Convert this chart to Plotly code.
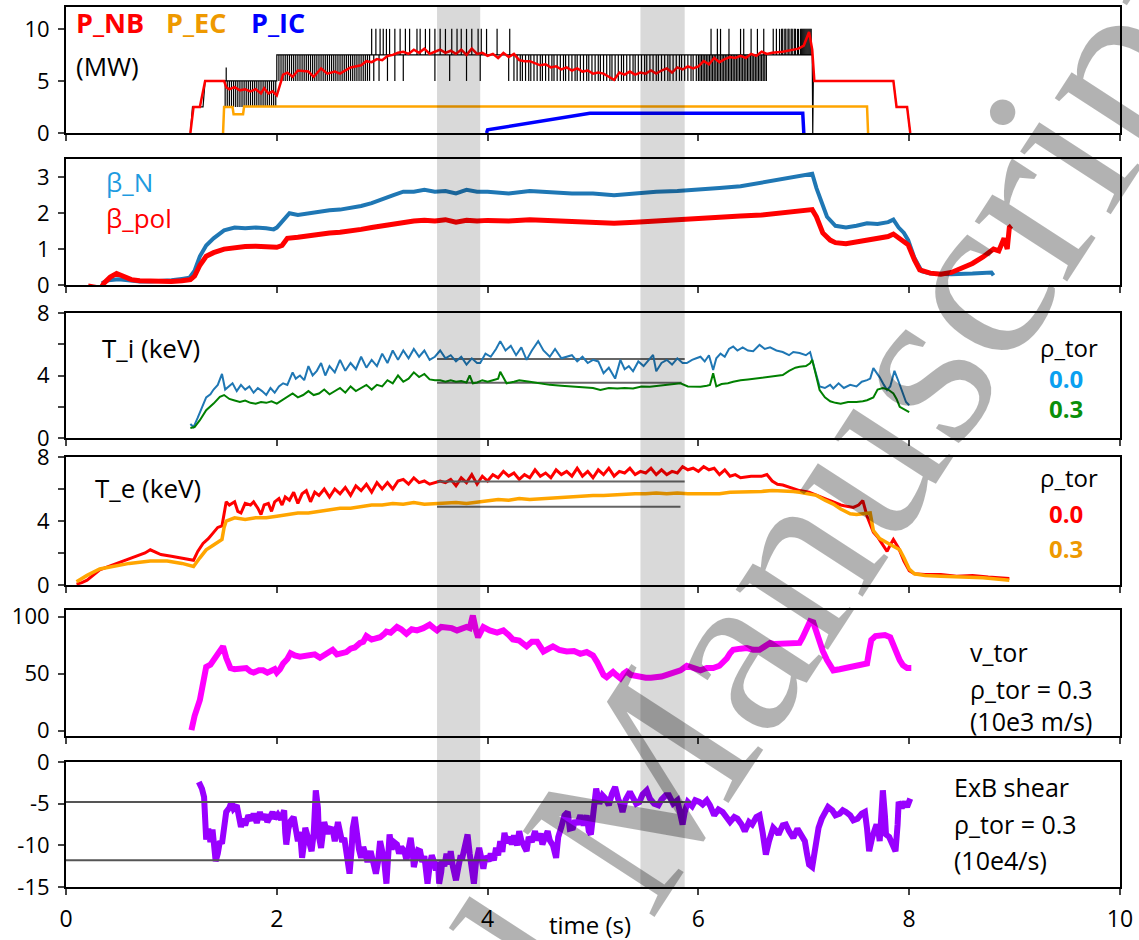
import plotly.graph_objects as go

# ---------------- data ----------------
# Panel 1: heating powers (MW)
NB_SMOOTH = [(1.18, 0), (1.21, 2.5), (1.27, 2.5), (1.32, 5), (1.5, 5), (1.52, 4.4), (1.55, 4.2), (1.6, 4.4),
             (1.65, 4.1), (1.7, 4.2), (1.75, 4.0), (1.8, 4.2), (1.85, 3.8), (1.88, 4.3), (1.92, 3.8), (1.96, 4.0),
             (2.0, 3.6), (2.03, 4.5), (2.06, 5.6), (2.1, 5.8), (2.15, 5.4), (2.2, 6.0), (2.3, 5.9), (2.35, 5.4),
             (2.42, 6.2), (2.48, 5.7), (2.55, 5.9), (2.6, 5.7), (2.7, 6.3), (2.8, 6.5), (2.85, 6.9), (2.9, 6.8),
             (2.95, 7.1), (3.0, 7.0), (3.05, 7.4), (3.1, 7.5), (3.15, 7.7), (3.2, 7.8), (3.25, 7.6), (3.3, 8.0),
             (3.35, 7.7), (3.4, 8.1), (3.45, 7.6), (3.5, 7.8), (3.55, 8.0), (3.6, 7.7), (3.65, 7.9), (3.7, 7.6),
             (3.75, 8.0), (3.8, 7.5), (3.85, 8.1), (3.9, 7.6), (3.95, 7.7), (4.0, 7.4), (4.05, 7.6), (4.1, 7.2),
             (4.15, 7.7), (4.2, 7.3), (4.25, 7.6), (4.3, 7.0), (4.35, 6.9), (4.4, 6.9), (4.45, 6.7), (4.5, 6.5),
             (4.55, 6.6), (4.6, 6.3), (4.65, 6.4), (4.7, 6.1), (4.75, 6.3), (4.8, 6.0), (4.85, 6.2), (4.9, 5.9),
             (4.95, 6.0), (5.0, 5.7), (5.05, 5.8), (5.1, 5.7), (5.15, 5.4), (5.2, 5.1), (5.25, 5.8), (5.3, 5.6),
             (5.35, 5.9), (5.4, 5.6), (5.45, 5.8), (5.5, 5.7), (5.55, 6.0), (5.6, 5.7), (5.65, 6.0), (5.7, 6.2),
             (5.75, 5.8), (5.8, 6.3), (5.85, 6.1), (5.9, 6.4), (5.95, 6.2), (6.0, 6.4), (6.05, 6.9), (6.1, 6.6),
             (6.15, 7.2), (6.2, 6.8), (6.25, 7.1), (6.3, 7.3), (6.35, 7.2), (6.4, 7.4), (6.45, 7.2), (6.5, 7.6),
             (6.55, 7.4), (6.6, 7.8), (6.65, 7.6), (6.7, 7.7), (6.8, 7.8), (6.9, 8.0), (6.95, 8.1), (7.0, 8.4),
             (7.05, 9.7), (7.08, 8.0), (7.1, 5.0), (7.85, 5.0), (7.88, 2.5), (7.98, 2.5), (8.01, 0)]

NB_RAW_BASE = [(1.18, 0), (1.2, 2.5), (1.3, 2.5), (1.32, 5), (1.5, 5), (2.0, 5), (2.0, 7.5), (7.08, 7.5),
               (7.085, 0), (7.09, 5), (7.85, 5), (7.88, 2.5), (7.98, 2.5), (8.01, 0)]
# modulation spikes of the raw NB power (times in s)
NB_DOWN_A = [1.51, 1.53, 1.55, 1.57, 1.59, 1.61, 1.63, 1.65, 1.67, 1.69, 1.71, 1.73, 1.75, 1.77, 1.79, 1.81,
             1.83, 1.85, 1.87, 1.89, 1.91, 1.93, 1.95, 1.97, 1.99]
NB_UP_A = [1.52]
NB_DOWN_B = [2.02, 2.04, 2.06, 2.08, 2.10, 2.12, 2.14, 2.16, 2.18, 2.20, 2.22, 2.24, 2.26, 2.28, 2.30, 2.32,
             2.34, 2.36, 2.38, 2.40, 2.42, 2.44, 2.46, 2.48, 2.50, 2.52, 2.54, 2.56, 2.58, 2.60, 2.62, 2.64,
             2.66, 2.68, 2.70, 2.72, 2.74, 2.76, 2.78, 2.80, 2.82, 2.84, 2.86, 2.88, 2.92, 2.97, 3.05, 3.12,
             3.20, 3.50, 3.64, 3.80, 3.93, 4.20, 4.25,
             4.28, 4.31, 4.33, 4.36, 4.39, 4.41, 4.44, 4.47, 4.50, 4.52, 4.55, 4.58, 4.61, 4.63, 4.66, 4.69,
             4.72, 4.74, 4.77, 4.80, 4.83, 4.85, 4.88, 4.91, 4.94, 4.96, 4.99, 5.02, 5.05, 5.07, 5.10, 5.13,
             5.16, 5.18, 5.21, 5.24, 5.27, 5.29, 5.32, 5.35, 5.38, 5.40, 5.43, 5.46, 5.49, 5.51, 5.54, 5.57,
             5.60, 5.62, 5.65, 5.68, 5.71, 5.73, 5.76, 5.79, 5.82, 5.84, 5.87, 5.90, 5.93, 5.95, 5.98,
             6.00, 6.015, 6.03, 6.045, 6.06, 6.075, 6.09, 6.105, 6.12, 6.135, 6.15, 6.165, 6.18, 6.195, 6.21,
             6.225, 6.24, 6.255, 6.27, 6.285, 6.30, 6.315, 6.33, 6.345, 6.36, 6.375, 6.39, 6.405, 6.42, 6.435,
             6.45, 6.465, 6.48, 6.495, 6.51, 6.525, 6.54, 6.555, 6.57, 6.585, 6.60, 6.615, 6.63, 6.645]
NB_UP_B = [2.90, 2.94, 2.98, 3.01, 3.04, 3.07, 3.12, 3.17, 3.22, 3.26, 3.33, 3.36, 3.41, 3.45, 3.50, 3.55,
           3.60, 3.66, 3.71, 3.75, 3.80, 3.85, 3.91, 3.94, 3.99, 4.09, 4.21,
           6.12, 6.18, 6.21, 6.29, 6.40, 6.43, 6.50, 6.56, 6.62, 6.71, 6.74, 6.77, 6.79, 6.80, 6.82, 6.83,
           6.85, 6.86, 6.88, 6.89, 6.91, 6.92, 6.94, 6.95, 6.97, 6.98, 6.99, 7.00, 7.01, 7.02, 7.03, 7.04,
           7.05, 7.06, 7.07]

P_EC = [(1.49, 0), (1.5, 2.5), (1.58, 2.5), (1.59, 1.8), (1.68, 1.8), (1.69, 2.55), (7.6, 2.55), (7.61, 0)]
P_IC = [(3.99, 0), (4.0, 0.3), (4.97, 1.9), (6.99, 1.9), (7.0, 0)]

# Panel 2: beta
BETA_N = [(0.34, 0.05), (0.4, 0.13), (0.5, 0.16), (0.6, 0.12), (0.7, 0.1), (0.8, 0.1), (0.9, 0.11), (1.0, 0.13),
          (1.1, 0.17), (1.17, 0.2), (1.22, 0.4), (1.27, 0.8), (1.33, 1.1), (1.4, 1.3), (1.5, 1.52), (1.6, 1.6),
          (1.7, 1.58), (1.8, 1.6), (1.9, 1.58), (1.97, 1.55), (2.0, 1.6), (2.07, 1.85), (2.12, 2.0), (2.2, 1.95),
          (2.3, 2.0), (2.4, 2.05), (2.5, 2.08), (2.6, 2.1), (2.7, 2.15), (2.8, 2.2), (2.9, 2.28), (3.0, 2.4),
          (3.1, 2.5), (3.2, 2.6), (3.3, 2.6), (3.4, 2.65), (3.5, 2.6), (3.6, 2.62), (3.7, 2.55), (3.8, 2.65),
          (3.9, 2.6), (4.0, 2.6), (4.2, 2.55), (4.4, 2.62), (4.6, 2.58), (4.8, 2.55), (5.0, 2.55), (5.2, 2.5),
          (5.4, 2.55), (5.6, 2.6), (5.8, 2.62), (6.0, 2.65), (6.2, 2.7), (6.4, 2.75), (6.6, 2.85), (6.8, 2.95),
          (7.0, 3.05), (7.08, 3.1), (7.12, 2.7), (7.16, 2.4), (7.22, 1.9), (7.3, 1.65), (7.4, 1.6), (7.5, 1.65),
          (7.6, 1.72), (7.7, 1.7), (7.8, 1.75), (7.85, 1.82), (7.9, 1.6), (7.95, 1.45), (7.99, 1.25),
          (8.05, 0.75), (8.12, 0.38), (8.2, 0.32), (8.4, 0.3), (8.6, 0.32), (8.78, 0.35), (8.8, 0.27)]
BETA_POL = [(0.21, -0.03), (0.28, -0.08), (0.33, -0.09), (0.36, 0.05), (0.42, 0.22), (0.48, 0.32), (0.55, 0.24),
            (0.62, 0.15), (0.7, 0.12), (0.8, 0.11), (0.9, 0.11), (1.0, 0.1), (1.1, 0.12), (1.18, 0.15),
            (1.22, 0.25), (1.27, 0.55), (1.33, 0.8), (1.4, 0.9), (1.5, 1.0), (1.6, 1.05), (1.7, 1.07),
            (1.8, 1.08), (1.9, 1.07), (2.0, 1.05), (2.05, 1.1), (2.1, 1.3), (2.2, 1.33), (2.3, 1.38), (2.4, 1.4),
            (2.5, 1.45), (2.6, 1.47), (2.7, 1.5), (2.8, 1.55), (2.9, 1.6), (3.0, 1.65), (3.1, 1.7), (3.2, 1.75),
            (3.3, 1.78), (3.4, 1.8), (3.5, 1.78), (3.6, 1.82), (3.7, 1.75), (3.8, 1.8), (3.9, 1.78), (4.0, 1.8),
            (4.2, 1.78), (4.4, 1.82), (4.6, 1.8), (4.8, 1.75), (5.0, 1.75), (5.2, 1.72), (5.4, 1.75), (5.6, 1.8),
            (5.8, 1.82), (6.0, 1.85), (6.2, 1.9), (6.4, 1.92), (6.6, 1.95), (6.8, 2.0), (7.0, 2.05), (7.08, 2.1),
            (7.12, 1.9), (7.18, 1.45), (7.25, 1.25), (7.3, 1.18), (7.4, 1.15), (7.5, 1.2), (7.6, 1.22),
            (7.7, 1.3), (7.8, 1.35), (7.85, 1.42), (7.9, 1.3), (7.95, 1.2), (7.99, 1.12), (8.05, 0.7),
            (8.1, 0.42), (8.2, 0.33), (8.3, 0.3), (8.4, 0.35), (8.5, 0.48), (8.6, 0.6), (8.7, 0.78), (8.8, 1.0),
            (8.85, 0.95), (8.9, 1.3), (8.93, 1.0), (8.95, 1.6), (8.97, 1.65)]

# Panel 3: T_i (keV)
TI_00 = [(1.18, 0.9), (1.21, 0.7), (1.25, 1.3), (1.29, 1.9), (1.33, 2.6), (1.37, 2.8), (1.4, 3.1), (1.44, 3.4),
         (1.48, 4.1), (1.51, 3.1), (1.55, 3.3), (1.58, 3.5), (1.62, 3.0), (1.66, 3.4), (1.7, 3.1), (1.74, 3.3),
         (1.78, 2.9), (1.82, 3.2), (1.86, 3.0), (1.9, 2.75), (1.94, 3.2), (1.98, 2.9), (2.02, 3.3), (2.06, 3.5),
         (2.1, 3.4), (2.15, 4.2), (2.18, 3.8), (2.22, 4.0), (2.26, 3.7), (2.3, 4.6), (2.34, 4.0), (2.38, 4.3),
         (2.42, 4.8), (2.46, 4.0), (2.5, 4.6), (2.55, 4.2), (2.6, 5.0), (2.65, 4.3), (2.7, 4.8), (2.75, 4.4),
         (2.8, 5.2), (2.85, 4.5), (2.9, 5.0), (2.95, 4.6), (3.0, 5.4), (3.05, 4.8), (3.1, 5.6), (3.15, 5.0),
         (3.2, 5.6), (3.25, 5.1), (3.3, 5.7), (3.35, 5.2), (3.4, 5.6), (3.45, 5.0), (3.5, 5.2), (3.55, 5.6),
         (3.6, 5.1), (3.65, 5.3), (3.7, 4.9), (3.75, 5.2), (3.8, 4.7), (3.85, 5.1), (3.9, 4.8), (3.93, 4.8),
         (3.98, 5.4), (4.03, 5.2), (4.08, 5.7), (4.12, 6.2), (4.17, 5.6), (4.22, 5.9), (4.27, 5.3), (4.32, 5.8),
         (4.37, 5.0), (4.42, 5.6), (4.48, 6.2), (4.53, 5.6), (4.59, 5.2), (4.64, 5.7), (4.7, 5.1), (4.75, 5.2),
         (4.8, 5.3), (4.85, 4.9), (4.9, 5.2), (4.95, 4.8), (5.0, 5.0), (5.05, 4.9), (5.1, 4.15), (5.15, 4.5),
         (5.21, 3.8), (5.26, 5.0), (5.3, 4.4), (5.34, 4.6), (5.38, 4.27), (5.43, 4.9), (5.48, 4.6), (5.53, 5.0),
         (5.57, 5.32), (5.6, 4.27), (5.65, 4.8), (5.7, 5.0), (5.75, 4.7), (5.8, 5.1), (5.85, 4.8), (5.89, 4.8),
         (5.94, 5.0), (5.98, 5.1), (6.02, 5.2), (6.06, 4.9), (6.1, 5.3), (6.14, 4.35), (6.17, 5.1), (6.21, 5.4),
         (6.25, 5.2), (6.29, 5.7), (6.33, 5.85), (6.37, 5.6), (6.42, 5.8), (6.47, 5.6), (6.52, 5.55),
         (6.58, 5.96), (6.63, 5.7), (6.68, 5.8), (6.74, 5.6), (6.8, 5.5), (6.86, 5.3), (6.9, 5.5), (6.96, 5.44),
         (7.02, 5.3), (7.06, 5.5), (7.1, 4.5), (7.15, 3.3), (7.2, 3.2), (7.25, 3.4), (7.28, 3.17), (7.33, 3.5),
         (7.38, 3.2), (7.44, 3.4), (7.5, 3.3), (7.55, 3.6), (7.6, 3.7), (7.63, 3.8), (7.66, 4.47), (7.69, 4.2),
         (7.72, 3.88), (7.76, 3.4), (7.79, 3.07), (7.82, 3.3), (7.86, 4.3), (7.9, 3.6), (7.94, 2.8),
         (7.97, 2.3), (8.0, 2.1)]
TI_03 = [(1.18, 0.64), (1.22, 0.7), (1.27, 1.14), (1.33, 1.78), (1.4, 2.2), (1.46, 2.64), (1.5, 2.75),
         (1.55, 2.5), (1.6, 2.4), (1.65, 2.3), (1.7, 2.4), (1.75, 2.25), (1.8, 2.2), (1.85, 2.3), (1.9, 2.25),
         (1.95, 2.35), (2.0, 2.2), (2.05, 2.4), (2.1, 2.6), (2.15, 2.85), (2.2, 2.6), (2.25, 2.75), (2.3, 3.0),
         (2.35, 2.75), (2.4, 2.85), (2.45, 3.1), (2.5, 2.8), (2.55, 3.0), (2.6, 3.2), (2.65, 2.9), (2.7, 3.3),
         (2.75, 3.0), (2.8, 3.2), (2.85, 3.4), (2.9, 3.1), (2.95, 3.4), (3.0, 3.3), (3.05, 3.7), (3.1, 3.5),
         (3.15, 4.0), (3.2, 3.6), (3.25, 3.8), (3.3, 4.2), (3.35, 3.9), (3.4, 4.1), (3.45, 3.75), (3.5, 3.7),
         (3.55, 3.7), (3.6, 3.6), (3.65, 3.7), (3.7, 3.6), (3.75, 3.65), (3.8, 3.55), (3.83, 4.0), (3.86, 3.5),
         (3.9, 3.55), (3.95, 3.7), (4.0, 3.6), (4.05, 3.7), (4.1, 3.8), (4.12, 4.24), (4.18, 3.5), (4.25, 3.6),
         (4.3, 3.7), (4.4, 3.6), (4.5, 3.5), (4.59, 3.4), (4.7, 3.35), (4.8, 3.3), (4.9, 3.28), (5.0, 3.2),
         (5.07, 3.07), (5.15, 3.2), (5.23, 3.17), (5.3, 3.2), (5.38, 3.17), (5.46, 3.3), (5.54, 3.28),
         (5.62, 3.35), (5.7, 3.4), (5.77, 3.45), (5.83, 3.5), (5.9, 3.3), (5.96, 3.3), (6.02, 3.28), (6.08, 3.35),
         (6.11, 3.4), (6.14, 4.14), (6.17, 3.3), (6.22, 3.45), (6.28, 3.5), (6.33, 3.6), (6.4, 3.7), (6.47, 3.75),
         (6.53, 3.8), (6.58, 3.8), (6.65, 3.9), (6.72, 3.95), (6.8, 4.03), (6.86, 4.3), (6.92, 4.5),
         (6.96, 4.56), (7.02, 4.6), (7.06, 4.78), (7.08, 5.0), (7.12, 3.9), (7.15, 3.07), (7.2, 2.6),
         (7.25, 2.35), (7.3, 2.25), (7.35, 2.2), (7.42, 2.3), (7.5, 2.3), (7.56, 2.35), (7.6, 2.42), (7.66, 2.6),
         (7.7, 3.1), (7.75, 3.2), (7.8, 3.1), (7.85, 2.85), (7.88, 2.5), (7.91, 2.0), (7.96, 1.8), (8.0, 1.65)]
TI_REF_HI = [(3.52, 5.06), (5.87, 5.06)]
TI_REF_LO = [(3.52, 3.54), (5.84, 3.54)]

# Panel 4: T_e (keV)
TE_00 = [(0.1, 0.05), (0.15, 0.15), (0.2, 0.3), (0.25, 0.55), (0.32, 0.95), (0.4, 1.15), (0.5, 1.4), (0.6, 1.6),
         (0.7, 1.9), (0.75, 2.0), (0.8, 2.2), (0.85, 2.05), (0.9, 1.9), (1.0, 1.8), (1.1, 1.7), (1.17, 1.6),
         (1.21, 1.55), (1.25, 2.1), (1.3, 2.6), (1.35, 2.9), (1.4, 3.3), (1.44, 3.6), (1.48, 3.7), (1.5, 4.6),
         (1.52, 5.2), (1.55, 5.0), (1.6, 5.2), (1.63, 4.6), (1.66, 4.5), (1.7, 5.1), (1.75, 5.0), (1.78, 5.2),
         (1.82, 4.8), (1.85, 4.4), (1.88, 5.0), (1.92, 5.1), (1.95, 4.6), (1.98, 5.2), (2.02, 5.4), (2.05, 5.0),
         (2.08, 5.5), (2.12, 5.3), (2.16, 5.8), (2.2, 5.1), (2.24, 5.7), (2.28, 5.9), (2.32, 5.2), (2.36, 5.8),
         (2.4, 5.6), (2.45, 6.0), (2.5, 5.5), (2.55, 6.0), (2.6, 5.7), (2.65, 6.1), (2.7, 5.6), (2.75, 6.2),
         (2.8, 5.9), (2.85, 6.3), (2.9, 5.8), (2.95, 6.4), (3.0, 6.0), (3.05, 6.4), (3.1, 6.0), (3.15, 6.5),
         (3.2, 6.6), (3.25, 6.3), (3.3, 6.7), (3.35, 6.4), (3.4, 6.5), (3.45, 6.3), (3.5, 6.4), (3.55, 6.5),
         (3.6, 6.4), (3.65, 6.6), (3.7, 6.2), (3.75, 6.7), (3.8, 6.4), (3.85, 6.9), (3.9, 6.3), (3.95, 6.8),
         (4.0, 6.5), (4.05, 6.9), (4.1, 6.7), (4.15, 7.1), (4.2, 6.8), (4.25, 7.0), (4.3, 6.6), (4.35, 6.9),
         (4.4, 6.7), (4.45, 7.2), (4.5, 6.8), (4.55, 7.0), (4.6, 6.7), (4.65, 7.2), (4.7, 6.9), (4.75, 7.1),
         (4.8, 6.8), (4.85, 7.3), (4.9, 6.8), (4.95, 7.1), (5.0, 6.7), (5.05, 7.2), (5.1, 6.9), (5.15, 7.3),
         (5.2, 6.8), (5.25, 7.1), (5.3, 7.0), (5.35, 7.3), (5.4, 6.9), (5.45, 7.1), (5.5, 7.0), (5.55, 7.3),
         (5.6, 6.9), (5.65, 7.2), (5.7, 6.9), (5.75, 7.1), (5.8, 7.0), (5.85, 7.4), (5.9, 7.2), (5.95, 7.3),
         (6.0, 7.1), (6.05, 7.4), (6.1, 7.2), (6.15, 7.3), (6.2, 6.9), (6.25, 7.2), (6.3, 6.8), (6.35, 6.9),
         (6.4, 6.7), (6.5, 6.8), (6.6, 6.8), (6.65, 6.9), (6.7, 6.5), (6.75, 6.3), (6.8, 6.25), (6.87, 6.1),
         (6.92, 6.0), (6.96, 5.9), (7.05, 5.8), (7.12, 5.6), (7.2, 5.4), (7.28, 5.2), (7.35, 5.0), (7.42, 4.9),
         (7.47, 4.85), (7.52, 5.0), (7.56, 5.28), (7.6, 4.3), (7.63, 3.8), (7.66, 3.3), (7.7, 3.0), (7.75, 2.5),
         (7.79, 2.1), (7.82, 2.5), (7.85, 2.85), (7.9, 2.3), (7.95, 1.5), (8.0, 0.9), (8.05, 0.7), (8.15, 0.65),
         (8.3, 0.65), (8.45, 0.55), (8.6, 0.6), (8.75, 0.5), (8.9, 0.45), (8.95, 0.4)]
TE_03 = [(0.1, 0.2), (0.2, 0.6), (0.32, 1.0), (0.45, 1.15), (0.6, 1.35), (0.8, 1.5), (0.96, 1.5), (1.1, 1.35),
         (1.21, 1.16), (1.27, 1.7), (1.33, 2.2), (1.4, 2.5), (1.48, 2.85), (1.5, 3.6), (1.52, 4.0), (1.6, 4.2),
         (1.7, 4.1), (1.8, 4.2), (1.9, 4.2), (2.0, 4.3), (2.1, 4.4), (2.2, 4.5), (2.3, 4.5), (2.4, 4.6),
         (2.5, 4.7), (2.6, 4.8), (2.7, 4.8), (2.8, 4.9), (2.9, 5.0), (3.0, 5.0), (3.1, 5.1), (3.2, 5.05),
         (3.3, 5.15), (3.4, 5.05), (3.5, 5.1), (3.6, 5.1), (3.7, 5.15), (3.8, 5.1), (3.9, 5.2), (4.0, 5.25),
         (4.1, 5.35), (4.2, 5.3), (4.3, 5.4), (4.4, 5.35), (4.5, 5.4), (4.6, 5.4), (4.7, 5.45), (4.8, 5.5),
         (4.9, 5.55), (5.0, 5.6), (5.1, 5.6), (5.2, 5.65), (5.3, 5.7), (5.4, 5.7), (5.5, 5.7), (5.6, 5.75),
         (5.7, 5.7), (5.8, 5.75), (5.9, 5.7), (6.0, 5.7), (6.1, 5.75), (6.2, 5.7), (6.3, 5.8), (6.4, 5.8),
         (6.5, 5.8), (6.6, 5.85), (6.7, 5.9), (6.8, 5.9), (6.9, 5.85), (6.96, 5.8), (7.05, 5.7), (7.12, 5.6),
         (7.2, 5.3), (7.28, 5.06), (7.35, 4.75), (7.44, 4.45), (7.5, 4.4), (7.56, 4.45), (7.6, 4.45),
         (7.63, 4.5), (7.66, 3.4), (7.72, 2.9), (7.79, 2.64), (7.85, 2.4), (7.91, 2.2), (7.95, 1.7), (8.0, 1.0),
         (8.05, 0.7), (8.15, 0.6), (8.3, 0.55), (8.5, 0.5), (8.7, 0.45), (8.95, 0.3)]
TE_REF_HI = [(3.52, 6.47), (5.87, 6.47)]
TE_REF_LO = [(3.52, 4.89), (5.83, 4.89)]

# Panel 5: v_tor at rho_tor = 0.3 (10e3 m/s)
VTOR = [(1.19, 0.6), (1.22, 13), (1.27, 27), (1.31, 48), (1.33, 56), (1.37, 58), (1.4, 62), (1.43, 66),
        (1.46, 71), (1.49, 74), (1.52, 64), (1.56, 55), (1.6, 54), (1.65, 55), (1.71, 55), (1.75, 52),
        (1.78, 51), (1.83, 53), (1.87, 53), (1.91, 51), (1.94, 52), (1.98, 54), (2.0, 51), (2.03, 54),
        (2.06, 59), (2.1, 63), (2.13, 68), (2.17, 66), (2.22, 65), (2.27, 66), (2.31, 66), (2.36, 67),
        (2.41, 64), (2.46, 67), (2.5, 69), (2.53, 71), (2.57, 67), (2.62, 68), (2.66, 69), (2.7, 72),
        (2.74, 73), (2.79, 77), (2.82, 78), (2.85, 83), (2.9, 80), (2.94, 81), (2.98, 82), (3.02, 85),
        (3.04, 87), (3.08, 86), (3.14, 91), (3.18, 89), (3.23, 85), (3.28, 89), (3.33, 88), (3.39, 90),
        (3.45, 93), (3.49, 90), (3.52, 88), (3.56, 91), (3.61, 91), (3.66, 90), (3.71, 88), (3.76, 90),
        (3.8, 91), (3.83, 90), (3.86, 101), (3.89, 88), (3.91, 82), (3.96, 91), (4.02, 88), (4.09, 86),
        (4.15, 88), (4.2, 84), (4.24, 80), (4.3, 79), (4.37, 74), (4.42, 78), (4.47, 78), (4.53, 69.5),
        (4.58, 72), (4.62, 74), (4.68, 71), (4.75, 69.5), (4.82, 70), (4.88, 67.5), (4.94, 69), (5.0, 66),
        (5.04, 60), (5.07, 53), (5.1, 49), (5.13, 47), (5.16, 50), (5.19, 51.6), (5.22, 49), (5.26, 46),
        (5.29, 50), (5.32, 52), (5.36, 49), (5.4, 48), (5.45, 47), (5.5, 46.5), (5.55, 46.5), (5.6, 46.5),
        (5.65, 47.5), (5.7, 49), (5.73, 49.7), (5.78, 51), (5.83, 53), (5.89, 57), (5.95, 55), (6.02, 53),
        (6.08, 55), (6.14, 55), (6.2, 57), (6.24, 60), (6.27, 63.5), (6.3, 68), (6.33, 71), (6.4, 72),
        (6.46, 72.5), (6.52, 71), (6.58, 71), (6.63, 74), (6.68, 77), (6.72, 76), (6.77, 76), (6.85, 77),
        (6.92, 77), (6.96, 77), (6.99, 82), (7.03, 90), (7.06, 96), (7.09, 95), (7.12, 86), (7.15, 80),
        (7.18, 70), (7.22, 62), (7.25, 56), (7.28, 53), (7.34, 54), (7.4, 55), (7.44, 56), (7.5, 57),
        (7.55, 58), (7.6, 59), (7.62, 70), (7.64, 79.5), (7.68, 83), (7.72, 84), (7.77, 84), (7.82, 82),
        (7.85, 75), (7.88, 68), (7.91, 62), (7.94, 57.6), (7.98, 55), (8.02, 55)]

# Panel 6: ExB shear at rho_tor = 0.3 (10e4/s)
EXB = [(1.26, -2.4), (1.29, -3.2), (1.31, -4.2), (1.33, -9.3), (1.35, -8.0), (1.37, -9.6), (1.39, -8.1),
       (1.41, -10.5), (1.42, -11.9), (1.44, -11.0), (1.46, -9.5), (1.48, -9.8), (1.5, -7.0), (1.52, -6.0),
       (1.55, -5.5), (1.57, -4.8), (1.59, -5.6), (1.62, -5.2), (1.64, -6.5), (1.66, -7.8), (1.68, -6.8),
       (1.70, -7.6), (1.73, -6.4), (1.76, -7.0), (1.78, -6.2), (1.81, -7.3), (1.84, -6.0), (1.86, -6.9),
       (1.89, -6.3), (1.91, -7.2), (1.94, -6.5), (1.96, -6.0), (1.98, -6.8), (2.01, -6.3), (2.04, -6.9),
       (2.07, -5.8), (2.08, -8.5), (2.09, -9.9), (2.11, -8.0), (2.13, -7.1), (2.16, -6.6), (2.18, -8.2),
       (2.2, -9.5), (2.22, -8.4), (2.24, -11.5), (2.26, -9.6), (2.27, -7.9), (2.29, -8.8), (2.31, -9.6),
       (2.33, -10.7), (2.35, -8.6), (2.37, -3.4), (2.39, -5.5), (2.40, -9.0), (2.42, -10.3), (2.44, -8.0),
       (2.45, -7.2), (2.48, -8.6), (2.50, -8.0), (2.53, -8.1), (2.55, -9.5), (2.58, -7.2), (2.6, -8.8),
       (2.62, -9.6), (2.64, -9.1), (2.66, -11.0), (2.68, -12.0), (2.69, -13.4), (2.71, -10.5), (2.72, -8.0),
       (2.74, -6.6), (2.76, -9.5), (2.78, -10.5), (2.8, -11.5), (2.82, -10.2), (2.84, -11.0), (2.86, -12.0),
       (2.89, -10.7), (2.91, -11.6), (2.94, -13.4), (2.96, -12.0), (2.98, -9.5), (3.0, -10.7), (3.02, -12.0),
       (3.04, -14.6), (3.05, -11.5), (3.07, -8.7), (3.09, -10.5), (3.11, -9.6), (3.14, -9.9), (3.16, -11.0),
       (3.18, -10.2), (3.21, -10.7), (3.23, -11.8), (3.25, -10.0), (3.27, -9.1), (3.29, -11.0), (3.3, -12.6),
       (3.32, -11.5), (3.34, -10.6), (3.36, -10.7), (3.38, -12.0), (3.4, -11.3), (3.42, -13.0), (3.43, -14.6),
       (3.45, -12.5), (3.47, -11.2), (3.49, -11.9), (3.51, -13.0), (3.53, -12.0), (3.54, -14.6), (3.56, -13.2),
       (3.57, -11.9), (3.59, -12.5), (3.61, -11.0), (3.63, -12.3), (3.65, -10.7), (3.67, -12.5), (3.69, -13.5),
       (3.7, -14.2), (3.72, -12.8), (3.74, -11.5), (3.76, -11.5), (3.78, -10.3), (3.79, -9.5), (3.81, -8.7),
       (3.83, -11.0), (3.85, -12.5), (3.87, -14.6), (3.89, -12.0), (3.92, -10.3), (3.94, -11.5), (3.96, -12.8),
       (3.98, -11.3), (4.01, -11.9), (4.03, -11.0), (4.06, -11.8), (4.08, -10.3), (4.1, -11.2), (4.12, -9.5),
       (4.14, -10.8), (4.16, -8.5), (4.18, -9.7), (4.21, -9.0), (4.23, -9.9), (4.25, -8.8), (4.28, -10.0),
       (4.3, -8.3), (4.32, -9.4), (4.35, -10.2), (4.37, -10.7), (4.39, -9.0), (4.42, -9.6), (4.45, -8.3),
       (4.47, -9.4), (4.5, -8.6), (4.52, -9.9), (4.55, -8.9), (4.57, -8.3), (4.59, -9.4), (4.62, -10.0),
       (4.65, -11.5), (4.67, -9.0), (4.7, -7.8), (4.73, -6.4), (4.76, -6.0), (4.78, -8.0), (4.81, -7.9),
       (4.83, -7.0), (4.85, -7.5), (4.88, -6.4), (4.91, -7.6), (4.94, -6.4), (4.96, -8.3), (4.98, -8.7),
       (5.0, -6.5), (5.02, -4.0), (5.03, -3.2), (5.06, -5.0), (5.09, -4.0), (5.12, -4.4), (5.15, -5.2),
       (5.18, -3.8), (5.21, -3.0), (5.24, -4.5), (5.26, -5.0), (5.28, -6.0), (5.31, -4.5), (5.35, -3.6),
       (5.38, -4.2), (5.41, -5.0), (5.44, -4.8), (5.47, -3.9), (5.51, -3.4), (5.54, -4.4), (5.58, -5.0),
       (5.62, -5.2), (5.65, -4.5), (5.69, -4.0), (5.72, -4.0), (5.76, -5.0), (5.8, -4.6), (5.83, -6.0),
       (5.85, -7.5), (5.87, -6.0), (5.9, -4.8), (5.94, -5.3), (5.97, -4.6), (6.01, -4.8), (6.04, -5.1),
       (6.08, -4.6), (6.11, -5.2), (6.15, -6.4), (6.19, -5.7), (6.23, -6.0), (6.27, -6.6), (6.3, -7.2),
       (6.34, -6.6), (6.37, -6.8), (6.41, -7.5), (6.44, -8.3), (6.48, -7.2), (6.51, -7.5), (6.55, -6.6),
       (6.58, -6.4), (6.61, -8.5), (6.64, -11.1), (6.67, -9.5), (6.71, -7.9), (6.74, -8.3), (6.76, -8.7),
       (6.8, -7.6), (6.83, -7.5), (6.86, -8.3), (6.9, -9.1), (6.94, -8.0), (6.98, -8.7), (7.01, -9.5),
       (7.03, -11.0), (7.05, -12.3), (7.08, -12.6), (7.11, -10.0), (7.14, -7.9), (7.17, -6.8), (7.2, -6.0),
       (7.23, -5.4), (7.27, -5.8), (7.3, -6.4), (7.34, -6.2), (7.37, -5.8), (7.4, -6.0), (7.44, -6.4),
       (7.47, -7.0), (7.51, -6.8), (7.55, -6.2), (7.58, -6.0), (7.6, -8.0), (7.62, -10.7), (7.65, -9.0),
       (7.69, -7.5), (7.71, -8.5), (7.72, -9.5), (7.74, -5.5), (7.75, -3.4), (7.77, -6.5), (7.78, -8.7),
       (7.81, -9.0), (7.83, -9.5), (7.87, -10.7), (7.89, -7.5), (7.9, -4.8), (7.93, -5.5), (7.96, -4.8),
       (7.98, -5.4), (8.01, -4.4)]
EXB_REF_HI = [(0.0, -4.8), (5.93, -4.8)]
EXB_REF_LO = [(0.0, -11.8), (4.0, -11.8)]

# shaded analysis windows (s)
WINDOWS = [(3.52, 3.93), (5.45, 5.87)]

# axis settings
X_TICKS = [0, 2, 4, 6, 8, 10]
Y_RANGES = [[0, 12.1], [0, 3.51], [0, 8], [0, 8], [-4.6, 105.9], [-15, 0]]
Y_TICKS = [[0, 5, 10], [0, 1, 2, 3], [0, 2, 4, 6, 8], [0, 2, 4, 6, 8], [0, 50, 100], [0, -5, -10, -15]]
Y_TICKTEXT = [["0", "5", "10"], ["0", "1", "2", "3"], ["0", "", "4", "", "8"], ["0", "", "4", "", "8"],
              ["0", "50", "100"], ["0", "-5", "-10", "-15"]]

# ---------------- layout geometry (pixels) ----------------
W, H = 1139, 940
L, R, T, B = 66, 1120, 7, 887
PANELS = [(7, 133), (159, 285), (313, 438), (457, 585), (610, 736), (762, 887)]


def px(x):
    return (x - L) / (R - L)


def py(y):
    return (B - y) / (B - T)


def unzip(pairs):
    return [p[0] for p in pairs], [p[1] for p in pairs]


FONT = "Open Sans"
fig = go.Figure()


def line(i, pairs, color, width):
    t, v = unzip(pairs)
    sfx = "" if i == 1 else str(i)
    fig.add_trace(go.Scatter(x=t, y=v, mode="lines", line=dict(color=color, width=width),
                             xaxis="x" + sfx, yaxis="y" + sfx, hoverinfo="skip"))


def spikes(times, base, peak):
    xs, ys = [], []
    for s in times:
        xs += [s, s, None]
        ys += [base, peak, None]
    fig.add_trace(go.Scatter(x=xs, y=ys, mode="lines", line=dict(color="black", width=1.2),
                             xaxis="x", yaxis="y", hoverinfo="skip"))


# Panel 1
line(1, NB_RAW_BASE, "black", 1.2)
spikes(NB_DOWN_A, 5, 2.5)
spikes(NB_UP_A, 5, 6.3)
spikes(NB_DOWN_B, 7.5, 5)
spikes(NB_UP_B, 7.5, 10)
line(1, P_EC, "#ffa500", 2.5)
line(1, P_IC, "#0000ff", 3.5)
line(1, NB_SMOOTH, "#ff0000", 2.5)
# Panel 2
line(2, BETA_N, "#1f77b4", 4)
line(2, BETA_POL, "#ff0000", 5)
# Panel 3
line(3, TI_REF_HI, "#666666", 2)
line(3, TI_REF_LO, "#666666", 2)
line(3, TI_00, "#1f77b4", 2)
line(3, TI_03, "#008000", 2)
# Panel 4
line(4, TE_00, "#ff0000", 3)
line(4, TE_03, "#ffa500", 3.5)
line(4, TE_REF_HI, "#666666", 2)
line(4, TE_REF_LO, "#666666", 2)
# Panel 5
line(5, VTOR, "#ff00ff", 6)
# Panel 6
line(6, EXB, "#9900ff", 6)
line(6, EXB_REF_HI, "#555555", 2)
line(6, EXB_REF_LO, "#555555", 2)

layout = dict(width=W, height=H, margin=dict(l=L, r=W - R, t=T, b=H - B, autoexpand=False),
              paper_bgcolor="white", plot_bgcolor="rgba(0,0,0,0)", showlegend=False,
              font=dict(family=FONT, size=22, color="black"))
for i, (top, bot) in enumerate(PANELS, start=1):
    sfx = "" if i == 1 else str(i)
    layout["xaxis" + sfx] = dict(domain=[0, 1], range=[0, 10], anchor="y" + sfx, tickvals=X_TICKS,
                                 showticklabels=(i == 6), ticks="outside", ticklen=6, tickwidth=2,
                                 showline=True, linewidth=2, linecolor="black", mirror=True,
                                 showgrid=False, zeroline=False, tickfont=dict(size=23),
                                 ticklabelstandoff=4, automargin=False)
    layout["yaxis" + sfx] = dict(domain=[py(bot), py(top)], range=Y_RANGES[i - 1], anchor="x" + sfx,
                                 tickvals=Y_TICKS[i - 1], ticktext=Y_TICKTEXT[i - 1], ticks="outside",
                                 ticklen=6, tickwidth=2, showline=True, linewidth=2, linecolor="black",
                                 mirror=True, showgrid=False, zeroline=False, tickfont=dict(size=22),
                                 ticklabelstandoff=4, automargin=False)
fig.update_layout(**layout)

# shaded windows spanning all panels
for (a, b) in WINDOWS:
    fig.add_shape(type="rect", xref="x", yref="paper", x0=a, x1=b, y0=0, y1=1.0,
                  fillcolor="rgba(0,0,0,0.15)", line=dict(width=0), layer="above")


def label(text, x, y, color="black", size=26, bold=False, anchor="left"):
    if bold:
        text = "<b>" + text + "</b>"
    fig.add_annotation(text=text, x=px(x), y=py(y), xref="paper", yref="paper", showarrow=False,
                       xanchor=anchor, yanchor="middle", font=dict(family=FONT, size=size, color=color))


label("P_NB", 74, 22, "#ff0000", size=27, bold=True)
label("P_EC", 164, 22, "#ee9900", size=27, bold=True)
label("P_IC", 249, 22, "#0000ff", size=27, bold=True)
label("(MW)", 74, 66)
label("β_N", 104, 182, "#1e9be0")
label("β_pol", 104, 218, "#ff0000")
label("T_i (keV)", 100, 348)
label("ρ_tor", 1038, 348, size=24)
label("0.0", 1047, 378, "#0aa0f0", size=24, bold=True)
label("0.3", 1047, 408, "#0a8f0a", size=24, bold=True)
label("T_e (keV)", 93, 488)
label("ρ_tor", 1038, 478, size=24)
label("0.0", 1047, 513, "#ff0000", size=24, bold=True)
label("0.3", 1047, 548, "#ee9900", size=24, bold=True)
label("v_tor", 968, 652, size=25)
label("ρ_tor = 0.3", 968, 689, size=25)
label("(10e3 m/s)", 968, 721, size=25)
label("ExB shear", 952, 787, size=25)
label("ρ_tor = 0.3", 952, 824, size=25)
label("(10e4/s)", 952, 860, size=25)
label("time (s)", 590, 924, size=24, anchor="center")

# "Accepted Manuscript" watermark
fig.add_annotation(text="Accepted Manuscript", x=px(617), y=py(826), xref="paper", yref="paper",
                   showarrow=False, xanchor="center", yanchor="middle", textangle=-57,
                   font=dict(family="Liberation Serif", size=240, color="rgba(0,0,0,0.3)"))

fig.write_html("out.html")
